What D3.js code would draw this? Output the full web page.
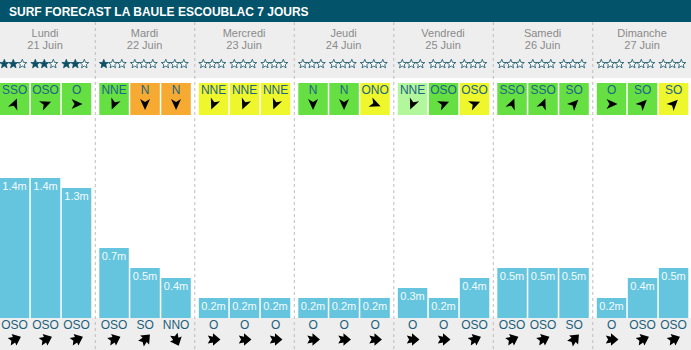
<!DOCTYPE html>
<html>
<head>
<meta charset="utf-8">
<script src="https://cdn.jsdelivr.net/npm/d3@7/dist/d3.min.js"></script>
<style>
  html, body { margin: 0; padding: 0; background: #fff; }
  svg { display: block; font-family: "Liberation Sans", Arial, Helvetica, sans-serif; }
</style>
</head>
<body>
<svg id="chart" width="691" height="350"></svg>
<script>
// Seven-day forecast, three time slots per day
const title = "SURF FORECAST LA BAULE ESCOUBLAC 7 JOURS";
const days = ["Lundi", "Mardi", "Mercredi", "Jeudi", "Vendredi", "Samedi", "Dimanche"];
const dates = ["21 Juin", "22 Juin", "23 Juin", "24 Juin", "25 Juin", "26 Juin", "27 Juin"];
const stars = [[2, 2, 2], [1, 0, 0], [0, 0, 0], [0, 0, 0], [0, 0, 0], [0, 0, 0], [0, 0, 0]];
const windDir = [
  ["SSO", "OSO", "O"], ["NNE", "N", "N"], ["NNE", "NNE", "NNE"], ["N", "N", "ONO"],
  ["NNE", "OSO", "OSO"], ["SSO", "SSO", "SO"], ["O", "SO", "SO"]
];
const windLevel = [
  ["good", "good", "good"], ["good", "strong", "strong"], ["fair", "fair", "fair"],
  ["good", "good", "fair"], ["light", "good", "fair"], ["good", "good", "good"], ["good", "good", "fair"]
];
const waveHeight = [
  [1.4, 1.4, 1.3], [0.7, 0.5, 0.4], [0.2, 0.2, 0.2], [0.2, 0.2, 0.2],
  [0.3, 0.2, 0.4], [0.5, 0.5, 0.5], [0.2, 0.4, 0.5]
];
const swellDir = [
  ["OSO", "OSO", "OSO"], ["OSO", "SO", "NNO"], ["O", "O", "O"], ["O", "O", "O"],
  ["O", "O", "OSO"], ["OSO", "OSO", "SO"], ["O", "OSO", "OSO"]
];

const compass = ["N", "NNE", "NE", "ENE", "E", "ESE", "SE", "SSE", "S", "SSO", "SO", "OSO", "O", "ONO", "NO", "NNO"];
const windColor = { good: "#66df42", strong: "#f6aa32", fair: "#eef62c", light: "#b2f79c" };

const W = 691, H = 350;
const svg = d3.select("#chart");

const dayX = d3.scaleBand().domain(d3.range(days.length)).range([-3.7, -3.7 + 99.5 * 7]);
const slotX = d3.scaleLinear().domain([0, 1]).range([3.5, 34.5]);
const barW = 29.5;
const y = d3.scaleLinear().domain([0, 1.5]).range([318, 168]);

const slots = [];
days.forEach((d, i) => {
  for (let s = 0; s < 3; s++) {
    slots.push({
      day: i, slot: s, x: dayX(i) + slotX(s),
      stars: stars[i][s], wind: windDir[i][s], level: windLevel[i][s],
      h: waveHeight[i][s], swell: swellDir[i][s]
    });
  }
});

// Backgrounds
svg.append("rect").attr("x", 0).attr("y", 22).attr("width", W).attr("height", 56).attr("fill", "#eeeeee");
svg.append("rect").attr("x", 0).attr("y", 318).attr("width", W).attr("height", 32).attr("fill", "#eeeeee");
svg.append("rect").attr("x", 0).attr("y", 0).attr("width", W).attr("height", 22).attr("fill", "#03546a");
svg.append("text").attr("x", 9).attr("y", 15.5).attr("fill", "#fff")
  .attr("font-size", 12).attr("font-weight", "bold").text(title);

// Day separators
svg.append("g").selectAll("line").data(d3.range(1, days.length)).join("line")
  .attr("x1", i => dayX(i) - 0.5).attr("x2", i => dayX(i) - 0.5)
  .attr("y1", 22).attr("y2", H)
  .attr("stroke", "#bdbdbd").attr("stroke-width", 1).attr("stroke-dasharray", "3,3");

// Day names and dates
const dayG = svg.append("g").selectAll("g").data(days).join("g")
  .attr("transform", (d, i) => `translate(${dayX(i) + dayX.bandwidth() / 2 - 1},0)`);
dayG.append("text").attr("y", 37).attr("text-anchor", "middle").attr("font-size", 11)
  .attr("fill", "#8a8a8a").text(d => d);
dayG.append("text").attr("y", 48.5).attr("text-anchor", "middle").attr("font-size", 11)
  .attr("fill", "#8a8a8a").text((d, i) => dates[i]);

// Star ratings
const starPath = (() => {
  const pts = [];
  for (let k = 0; k < 10; k++) {
    const r = k % 2 === 0 ? 4.7 : 2.0;
    const a = -Math.PI / 2 + k * Math.PI / 5;
    pts.push([r * Math.cos(a), r * Math.sin(a)]);
  }
  return "M" + pts.map(p => p.join(",")).join("L") + "Z";
})();
const starData = [];
slots.forEach(s => { for (let k = 0; k < 3; k++) starData.push({ x: s.x + 4.5 + k * 9, filled: k < s.stars }); });
svg.append("g").selectAll("path").data(starData).join("path")
  .attr("d", starPath).attr("transform", d => `translate(${d.x},64)`)
  .attr("fill", d => d.filled ? "#0c4e66" : "#ffffff")
  .attr("stroke", "#0c4e66").attr("stroke-width", 0.8).attr("stroke-linejoin", "round");

// Wind boxes
const angle = dir => (compass.indexOf(dir) * 22.5 + 180) % 360;
const windArrow = "M0,-6L5,5L0,2L-5,5Z";
const swellArrow = "M0,-6L5.5,0.5L2.5,0.5L3.5,5L0,3L-3.5,5L-2.5,0.5L-5.5,0.5Z";

const windG = svg.append("g").selectAll("g").data(slots).join("g")
  .attr("transform", d => `translate(${d.x},83)`);
windG.append("rect").attr("width", barW).attr("height", 32).attr("fill", d => windColor[d.level]);
windG.append("text").attr("x", barW / 2).attr("y", 10.5).attr("text-anchor", "middle")
  .attr("font-size", 12).attr("fill", "#1b6585").text(d => d.wind);
windG.append("path").attr("d", windArrow).attr("fill", "#000")
  .attr("transform", d => `translate(${barW / 2},21) rotate(${angle(d.wind)})`);

// Wave height bars
svg.append("g").selectAll("rect").data(slots).join("rect")
  .attr("x", d => d.x).attr("width", barW)
  .attr("y", d => y(d.h)).attr("height", d => y(0) - y(d.h))
  .attr("fill", "#66c5de");
svg.append("g").selectAll("text").data(slots).join("text")
  .attr("x", d => d.x + barW / 2).attr("y", d => y(d.h) + 11.5)
  .attr("text-anchor", "middle").attr("font-size", 11).attr("fill", "#f4fbfd")
  .text(d => d.h.toFixed(1) + "m");

// Swell direction
const swellG = svg.append("g").selectAll("g").data(slots).join("g")
  .attr("transform", d => `translate(${d.x + barW / 2},0)`);
swellG.append("text").attr("y", 328.5).attr("text-anchor", "middle").attr("font-size", 12)
  .attr("fill", "#1d5f7a").text(d => d.swell);
swellG.append("path").attr("d", swellArrow).attr("fill", "#000")
  .attr("transform", d => `translate(0,339.5) rotate(${angle(d.swell)}) scale(1.15)`);
</script>
</body>
</html>
